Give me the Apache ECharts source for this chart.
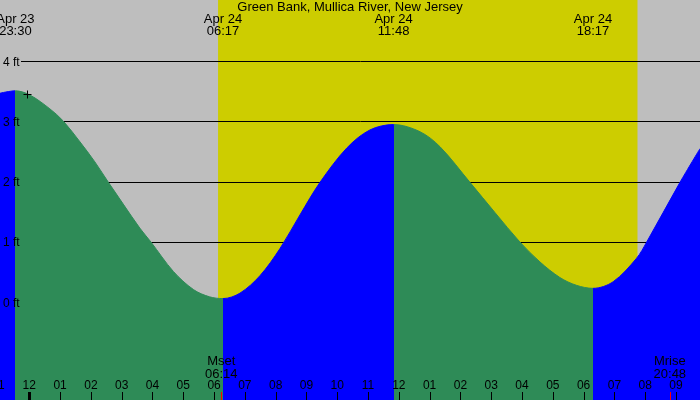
<!DOCTYPE html>
<html><head><meta charset="utf-8">
<script src="https://cdn.jsdelivr.net/npm/echarts@6/dist/echarts.min.js"></script>
<style>html,body{margin:0;padding:0;background:#bebebe}#c{width:700px;height:400px}</style>
</head><body><div id="c"></div>
<script>
// times are hours from Apr 24 00:00 (negative = Apr 23)
const chartTitle = 'Green Bank, Mullica River, New Jersey';
const tideTimes = [-0.45, 6.29, 11.83, 18.305];
const tideKinds = ['H', 'L', 'H', 'L'];
const tideDates = ['Apr 23', 'Apr 24', 'Apr 24', 'Apr 24'];
const tideClock = ['23:30', '06:17', '11:48', '18:17'];

const curveTimes = [-0.951, -0.45, 0.02, 0.67, 1.10, 1.65, 2.13, 2.57, 3.05, 3.59, 3.95, 4.68, 5.33, 5.85, 6.29, 6.84, 7.49, 8.14, 8.79, 9.44, 10.31, 11.06, 11.83, 12.69, 13.34, 14.31, 15.12, 15.93, 16.58, 17.23, 17.77, 18.305, 18.96, 19.72, 20.05, 21.13, 21.78];
const curveFeet  = [3.47, 3.51, 3.44, 3.21, 3.01, 2.66, 2.33, 1.99, 1.63, 1.23, 1.00, 0.51, 0.21, 0.09, 0.06, 0.15, 0.44, 0.89, 1.45, 1.99, 2.56, 2.86, 2.95, 2.83, 2.58, 1.99, 1.49, 1.00, 0.67, 0.41, 0.28, 0.23, 0.34, 0.73, 1.00, 1.99, 2.55];

const daylight = [6.13, 19.75];
const moonTimes = [6.233, 20.8];
const moonNames = ['Mset', 'Mrise'];
const moonClock = ['06:14', '20:48'];

const hourTicks  = [-1, 0, 1, 2, 3, 4, 5, 6, 7, 8, 9, 10, 11, 12, 13, 14, 15, 16, 17, 18, 19, 20, 21];
const hourLabels = ['11', '12', '01', '02', '03', '04', '05', '06', '07', '08', '09', '10', '11', '12', '01', '02', '03', '04', '05', '06', '07', '08', '09'];
const feetTicks  = [0, 1, 2, 3, 4];
const feetLabels = ['0 ft', '1 ft', '2 ft', '3 ft', '4 ft'];
const crossPoint = [-0.065, 3.46];

const xRange = [-0.951, 21.78];
const yRange = [-1.624, 5.018];

const BLUE = '#0000ff', GREEN = '#2e8b57', YELLOW = '#cdcd00', GRAY = '#bebebe';
const FONT = '"Liberation Sans", Arial, sans-serif';
const H = 400;

// colour pieces: rising = blue, falling = green
const pieces = [];
let prev = null;
tideTimes.forEach((t, i) => {
  const p = { lt: t, color: tideKinds[i] === 'H' ? BLUE : GREEN };
  if (prev !== null) p.gte = prev;
  pieces.push(p);
  prev = t;
});
pieces.push({ gte: prev, color: tideKinds[tideKinds.length - 1] === 'H' ? GREEN : BLUE });

const ySpan = yRange[1] - yRange[0];
const fMin = feetTicks[0], fMax = feetTicks[feetTicks.length - 1];
const grid2Top = (yRange[1] - fMax) / ySpan * H;
const grid2Bottom = (fMin - yRange[0]) / ySpan * H;

const chart = echarts.init(document.getElementById('c'), null, { renderer: 'canvas' });
chart.setOption({
  animation: false,
  backgroundColor: GRAY,
  title: {
    text: chartTitle, left: 'center', top: 1, padding: 0, zlevel: 6,
    textStyle: { fontSize: 13, fontWeight: 'normal', color: '#000', fontFamily: FONT }
  },
  grid: [
    { left: 0, right: 0, top: 0, bottom: 0 },
    { left: 21, right: 0, top: grid2Top, bottom: grid2Bottom }
  ],
  xAxis: [
    { type: 'value', gridIndex: 0, min: xRange[0], max: xRange[1], show: false },
    { type: 'value', gridIndex: 1, min: 0, max: 1, axisLine: { show: false }, axisTick: { show: false },
      axisLabel: { show: false }, splitLine: { show: false } }
  ],
  yAxis: [
    { type: 'value', gridIndex: 0, min: yRange[0], max: yRange[1], show: false },
    { type: 'value', gridIndex: 1, min: fMin, max: fMax, interval: 1, z: 0, zlevel: 0,
      axisLine: { show: false }, axisTick: { show: false }, axisLabel: { show: false },
      splitLine: { show: true, lineStyle: { color: '#000', width: 1, type: 'solid' } } }
  ],
  visualMap: {
    show: false, type: 'piecewise', dimension: 0, seriesIndex: 1, pieces: pieces
  },
  series: [
    { // daylight band
      type: 'line', xAxisIndex: 0, yAxisIndex: 0, data: [], z: -1, zlevel: 0, silent: true,
      markArea: {
        silent: true, z: -1, zlevel: 0,
        itemStyle: { color: YELLOW, opacity: 1 },
        data: [[{ xAxis: daylight[0] }, { xAxis: daylight[1] }]]
      }
    },
    { // tide curve
      type: 'line', xAxisIndex: 0, yAxisIndex: 0, z: 100, zlevel: 5,
      data: curveTimes.map((t, i) => [t, curveFeet[i]]),
      smooth: 0.33, showSymbol: false, silent: true,
      lineStyle: { width: 1, opacity: 1 },
      areaStyle: { opacity: 1, origin: 'start' }
    },
    { // foot labels
      type: 'custom', xAxisIndex: 0, yAxisIndex: 0, z: 5, zlevel: 6, silent: true,
      data: feetTicks.map(v => [xRange[0], v]),
      renderItem: (params, api) => {
        const p = api.coord([api.value(0), api.value(1)]);
        return { type: 'text', x: p[0] + 3, y: p[1] + 1,
          style: { text: feetLabels[params.dataIndex], fill: '#000', fontSize: 12, fontFamily: FONT, align: 'left', verticalAlign: 'middle' } };
      }
    },
    { // tide time labels at top
      type: 'custom', xAxisIndex: 0, yAxisIndex: 0, z: 5, zlevel: 6, silent: true,
      data: tideTimes.map(t => [t, yRange[1]]),
      renderItem: (params, api) => {
        const i = params.dataIndex;
        const p = api.coord([api.value(0), api.value(1)]);
        return { type: 'text', x: p[0], y: p[1] + 13.5,
          style: { text: tideDates[i] + '\n' + tideClock[i], fill: '#000', fontSize: 13, fontFamily: FONT, lineHeight: 12, align: 'center', verticalAlign: 'top' } };
      }
    },
    { // hour ticks and labels
      type: 'custom', xAxisIndex: 0, yAxisIndex: 0, z: 5, zlevel: 6, silent: true, clip: false,
      data: hourTicks.map(t => [t, yRange[0]]),
      renderItem: (params, api) => {
        const i = params.dataIndex;
        const t = api.value(0);
        const p = api.coord([t, api.value(1)]);
        const x = Math.round(p[0]) + 0.5;
        return { type: 'group', children: [
          { type: 'line', shape: { x1: x, y1: p[1] - 8, x2: x, y2: p[1] },
            style: { stroke: '#000', lineWidth: (t % 24 === 0) ? 3 : 1 } },
          { type: 'text', x: p[0], y: p[1] - 14,
            style: { text: hourLabels[i], fill: '#000', fontSize: 12, fontFamily: FONT, align: 'center', verticalAlign: 'middle' } }
        ] };
      }
    },
    { // moon events
      type: 'custom', xAxisIndex: 0, yAxisIndex: 0, z: 6, zlevel: 6, silent: true,
      data: moonTimes.map(t => [t, yRange[0]]),
      renderItem: (params, api) => {
        const i = params.dataIndex;
        const p = api.coord([api.value(0), api.value(1)]);
        const x = Math.round(p[0]) + 0.5;
        return { type: 'group', children: [
          { type: 'line', shape: { x1: x, y1: p[1] - 8, x2: x, y2: p[1] },
            style: { stroke: '#ff0000', lineWidth: 1 } },
          { type: 'text', x: p[0], y: p[1] - 45,
            style: { text: moonNames[i] + '\n' + moonClock[i], fill: '#000', fontSize: 13, fontFamily: FONT, lineHeight: 13, align: 'center', verticalAlign: 'top' } }
        ] };
      }
    },
    { // cross marker
      type: 'custom', xAxisIndex: 0, yAxisIndex: 0, z: 6, zlevel: 6, silent: true,
      data: [crossPoint],
      renderItem: (params, api) => {
        const p = api.coord([api.value(0), api.value(1)]);
        const x = Math.round(p[0]) + 0.5, y = Math.round(p[1]) + 0.5;
        return { type: 'group', children: [
          { type: 'line', shape: { x1: x - 4, y1: y, x2: x + 4, y2: y }, style: { stroke: '#000', lineWidth: 1 } },
          { type: 'line', shape: { x1: x, y1: y - 4, x2: x, y2: y + 4 }, style: { stroke: '#000', lineWidth: 1 } }
        ] };
      }
    }
  ]
});
</script></body></html>
